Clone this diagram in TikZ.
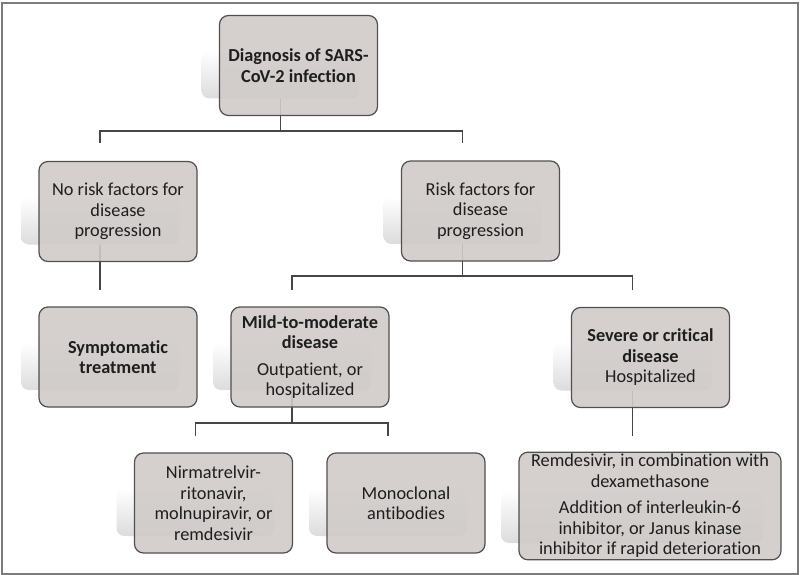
\documentclass[tikz,border=0pt]{standalone}
\usepackage{fontspec}
\setmainfont{Carlito}[Ligatures={NoCommon}]
\definecolor{boxfill}{RGB}{208,203,201}
\definecolor{boxline}{RGB}{80,80,80}
\definecolor{txt}{RGB}{30,30,30}
\definecolor{conncol}{RGB}{70,70,70}
\definecolor{framecol}{RGB}{125,125,125}
\definecolor{shadebot}{RGB}{220,220,220}
\begin{document}
\begin{tikzpicture}[x=1pt,y=-1pt,
  box/.style={draw=boxline, line width=1.2pt, fill=boxfill, fill opacity=0.9, text opacity=1,
    rounded corners=9pt, minimum width=158pt, minimum height=100pt, align=center,
    text=txt, font=\fontsize{18.3}{20.5}\selectfont, inner sep=2pt},
  glow/.style={rounded corners=8pt, top color=white, bottom color=shadebot, draw=none,
    minimum width=158pt, minimum height=48pt, inner sep=0pt},
  conn/.style={draw=conncol, line width=1.5pt}
]
\useasboundingbox (0,0) rectangle (800,575);
\draw[framecol, line width=1.5pt] (2,3) rectangle (798,574);

% glow / reflection shapes behind the boxes
\node[glow] (sdg) at (280.5,74.5) {};
\node[glow] (snr) at (100,220.5) {};
\node[glow] (srk) at (462.5,220) {};
\node[glow] (ssy) at (100,366) {};
\node[glow] (smd) at (292,366) {};
\node[glow] (ssv) at (632.5,366.5) {};
\node[glow] (snm) at (195.5,512) {};
\node[glow] (smo) at (388,512) {};
\node[glow, minimum width=262pt, minimum height=53pt] (srd) at (632,516.5) {};

% free ends of the connectors
\coordinate (jD) at (280.5,131);
\coordinate (eNR) at (100,143);
\coordinate (eRK) at (462.5,143);
\coordinate (eSY) at (100,290);
\coordinate (jR) at (462.5,276);
\coordinate (eMD) at (292,290);
\coordinate (eSV) at (632.5,290);
\coordinate (jM) at (292,423);
\coordinate (eNM) at (195.5,436);
\coordinate (eMO) at (388,436);
\coordinate (eRD) at (632.5,436);

% connectors
\draw[conn] (sdg.south) -- (jD);
\draw[conn] (eNR) |- (jD) -| (eRK);
\draw[conn] (snr.south) -- (eSY);
\draw[conn] (srk.south) -- (jR);
\draw[conn] (eMD) |- (jR) -| (eSV);
\draw[conn] (smd.south) -- (jM);
\draw[conn] (eNM) |- (jM) -| (eMO);
\draw[conn] (ssv.south) -- (eRD);

% boxes
\node[box] (diag) at (298.5,65.5) {\textbf{Diagnosis of SARS-}\\\textbf{CoV-2 infection}};
\node[box] (norisk) at (118,211.5) {No risk factors for\\disease\\progression};
\node[box] (risk) at (480.5,211) {Risk factors for\\disease\\progression};
\node[box] (sympt) at (118,357) {\textbf{Symptomatic}\\\textbf{treatment}};
\node[box] (mild) at (310,357) {\textbf{Mild-to-moderate}\\\textbf{disease}\\[6pt]Outpatient, or\\hospitalized};
\node[box] (severe) at (650.5,357.5) {\textbf{Severe or critical}\\\textbf{disease}\\Hospitalized};
\node[box] (nirm) at (213.5,503) {Nirmatrelvir-\\ritonavir,\\molnupiravir, or\\remdesivir};
\node[box] (mono) at (406,503) {Monoclonal\\antibodies};
\node[box, minimum width=262pt, minimum height=106pt] (remd) at (650,506) {Remdesivir, in combination with\\dexamethasone\\[6pt]Addition of interleukin-6\\inhibitor, or Janus kinase\\inhibitor if rapid deterioration};
\end{tikzpicture}
\end{document}
